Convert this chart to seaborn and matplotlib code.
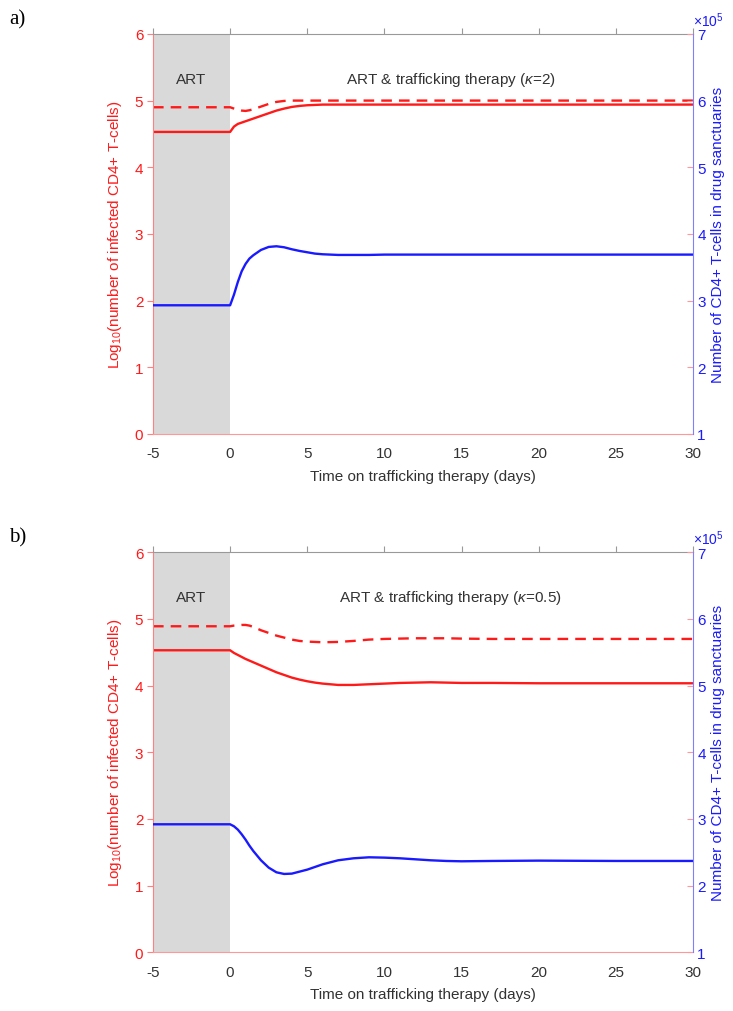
import numpy as np
import pandas as pd
import matplotlib
matplotlib.use("Agg")
import matplotlib.pyplot as plt
import seaborn as sns

# time points (days on trafficking therapy), shared by all curves
time = [-5, 0, 0.25, 0.5, 0.75, 1, 1.25, 1.5, 2, 2.5, 3, 3.5, 4, 4.5, 5, 5.5, 6, 7, 8, 9,
        10, 11, 12, 13, 14, 15, 17, 20, 25, 30]

# panel a (kappa = 2)
a_solid = [4.53, 4.53, 4.61, 4.65, 4.67, 4.69, 4.71, 4.73, 4.77, 4.81, 4.85, 4.88, 4.905, 4.92,
           4.93, 4.935, 4.94, 4.94, 4.94, 4.94, 4.94, 4.94, 4.94, 4.94, 4.94, 4.94, 4.94, 4.94,
           4.94, 4.94]
a_dashed = [4.90, 4.90, 4.88, 4.86, 4.85, 4.845, 4.855, 4.87, 4.91, 4.95, 4.98, 4.995, 5.0, 5.0,
            5.0, 5.0, 5.0, 5.0, 5.0, 5.0, 5.0, 5.0, 5.0, 5.0, 5.0, 5.0, 5.0, 5.0, 5.0, 5.0]
a_sanct = [2.93e5, 2.93e5, 3.09e5, 3.28e5, 3.44e5, 3.55e5, 3.63e5, 3.68e5, 3.76e5, 3.805e5,
           3.815e5, 3.80e5, 3.77e5, 3.745e5, 3.725e5, 3.705e5, 3.695e5, 3.685e5, 3.685e5,
           3.685e5, 3.69e5, 3.69e5, 3.69e5, 3.69e5, 3.69e5, 3.69e5, 3.69e5, 3.69e5, 3.69e5,
           3.69e5]

# panel b (kappa = 0.5)
b_solid = [4.53, 4.53, 4.49, 4.46, 4.43, 4.40, 4.375, 4.35, 4.30, 4.25, 4.20, 4.16, 4.12, 4.09,
           4.065, 4.045, 4.03, 4.01, 4.01, 4.02, 4.03, 4.04, 4.045, 4.05, 4.045, 4.04, 4.04,
           4.035, 4.035, 4.035]
b_dashed = [4.89, 4.89, 4.90, 4.905, 4.91, 4.91, 4.90, 4.88, 4.83, 4.79, 4.75, 4.72, 4.69, 4.67,
            4.66, 4.655, 4.65, 4.655, 4.67, 4.69, 4.70, 4.705, 4.71, 4.71, 4.71, 4.705, 4.70,
            4.70, 4.70, 4.70]
b_sanct = [2.92e5, 2.92e5, 2.89e5, 2.84e5, 2.77e5, 2.69e5, 2.60e5, 2.52e5, 2.38e5, 2.27e5,
           2.20e5, 2.175e5, 2.18e5, 2.21e5, 2.24e5, 2.28e5, 2.32e5, 2.38e5, 2.41e5, 2.425e5,
           2.42e5, 2.41e5, 2.395e5, 2.38e5, 2.37e5, 2.365e5, 2.37e5, 2.375e5, 2.37e5, 2.37e5]

panels = [
    ("a)", "ART & trafficking therapy ($\\kappa$=2)", a_solid, a_dashed, a_sanct),
    ("b)", "ART & trafficking therapy ($\\kappa$=0.5)", b_solid, b_dashed, b_sanct),
]

sns.set_style("white")
plt.rcParams['font.family'] = ['Liberation Sans', 'DejaVu Sans']
plt.rcParams['mathtext.fontset'] = 'custom'
plt.rcParams['mathtext.rm'] = 'Liberation Sans'
plt.rcParams['mathtext.it'] = 'Liberation Sans:italic'
plt.rcParams['axes.unicode_minus'] = False

RED = "#ff1a1a"
BLUE = "#1a1aff"
GREY_TXT = "#333333"
FS = 11

fig = plt.figure(figsize=(7.33, 10.12), dpi=100)
positions = [[0.2087, 0.5702, 0.7367, 0.3953], [0.2087, 0.0580, 0.7367, 0.3953]]

for (tag, note, solid, dashed, sanct), pos in zip(panels, positions):
    ax = fig.add_axes(pos)
    ax2 = ax.twinx()
    df = pd.DataFrame({"t": time, "solid": solid, "dashed": dashed, "sanct": sanct})

    ax.axvspan(-5, 0, color="#d9d9d9", lw=0, zorder=0)
    sns.lineplot(data=df, x="t", y="solid", ax=ax, color=RED, lw=1.7)
    sns.lineplot(data=df, x="t", y="dashed", ax=ax, color=RED, lw=1.7, linestyle=(0, (4.5, 3)))
    sns.lineplot(data=df, x="t", y="sanct", ax=ax2, color=BLUE, lw=1.7)

    ax.set_xlim(-5, 30)
    ax.set_ylim(0, 6)
    ax2.set_ylim(1e5, 7e5)
    ax.set_xticks(range(-5, 31, 5))
    ax.set_yticks(range(0, 7))
    ticks2 = np.arange(1, 8) * 1e5
    ax2.set_yticks(ticks2)
    ax2.set_yticklabels([f"{v / 1e5:.0f}" for v in ticks2])

    ax.set_xlabel("Time on trafficking therapy (days)", fontsize=FS, color=GREY_TXT, labelpad=6)
    ax.set_ylabel("Log$_{10}$(number of infected CD4+ T-cells)", fontsize=FS, color=RED, labelpad=8)
    ax2.set_ylabel("Number of CD4+ T-cells in drug sanctuaries", fontsize=FS, color=BLUE, labelpad=4)

    for sp in ax.spines.values():
        sp.set_linewidth(0.8)
    ax.spines["left"].set_color("#ff8080")
    ax.spines["bottom"].set_color("#ff9999")
    ax.spines["top"].set_color("#999999")
    ax.spines["right"].set_visible(False)
    for name, sp in ax2.spines.items():
        sp.set_visible(name == "right")
    ax2.spines["right"].set_color("#8080ff")
    ax2.spines["right"].set_linewidth(0.8)

    ax.tick_params(axis="x", top=True, direction="out", length=4, color="#999999",
                   labelsize=FS, labelcolor=GREY_TXT, pad=5)
    ax.tick_params(axis="y", direction="out", length=4, color="#ff8080",
                   labelsize=FS, labelcolor=RED, pad=3)
    ax2.tick_params(axis="y", direction="in", length=4, color="#ff9999",
                    labelsize=FS, labelcolor=BLUE, pad=3)

    ax.text(-2.5, 5.33, "ART", ha="center", va="center", fontsize=FS, color=GREY_TXT)
    ax.text(14.3, 5.33, note, ha="center", va="center", fontsize=FS, color=GREY_TXT)
    ax2.text(1.0, 1.012, "$\\times$10$^5$", transform=ax2.transAxes, ha="left", va="bottom",
             fontsize=10, color=BLUE)
    fig.text(0.012, pos[1] + pos[3] + 0.015, tag, family="Liberation Serif", fontsize=15,
             ha="left", va="center", color="black")

fig.savefig("out.png", dpi=100)
